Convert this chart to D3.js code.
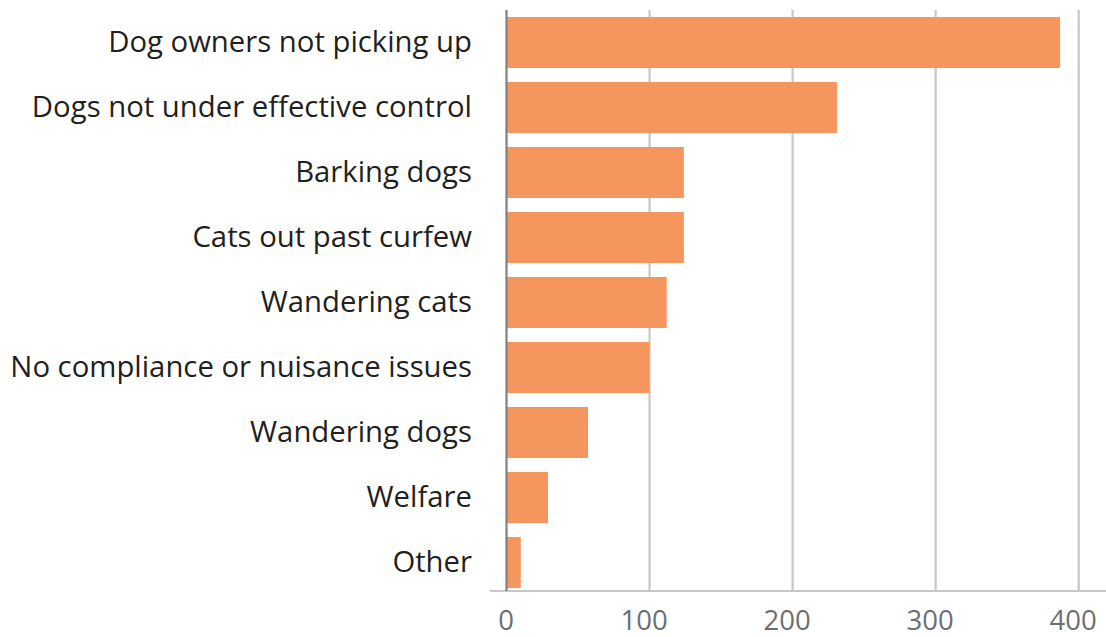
<!DOCTYPE html>
<html><head><meta charset="utf-8">
<script src="https://cdn.jsdelivr.net/npm/d3@7"></script>
<style>body{margin:0;background:#fff}svg{display:block}</style>
</head><body>
<script>
const categories = ["Dog owners not picking up","Dogs not under effective control","Barking dogs","Cats out past curfew","Wandering cats","No compliance or nuisance issues","Wandering dogs","Welfare","Other"];
const values = [387, 231, 124, 124, 112, 100, 57, 29, 10];
const tickValues = [0, 100, 200, 300, 400];

const W = 1106, H = 637;
const svg = d3.select("body").append("svg").attr("width", W).attr("height", H);
const x = d3.scaleLinear().domain([0, 400]).range([506.5, 1078.7]);
const y = d3.scaleBand().domain(categories).range([10, 595]).paddingInner(0.215).paddingOuter(0.1077);
const axisY = 591;
const font = "'Open Sans', 'Noto Sans', sans-serif";

// gridlines
svg.append("g").selectAll("line").data(tickValues.slice(1)).join("line")
  .attr("x1", d => x(d)).attr("x2", d => x(d)).attr("y1", 10).attr("y2", axisY)
  .attr("stroke", "#c6c7c8").attr("stroke-width", 2.2);

// bottom axis line
svg.append("line").attr("x1", 490).attr("x2", W).attr("y1", axisY).attr("y2", axisY)
  .attr("stroke", "#c6c7c8").attr("stroke-width", 2.2);

// bars
svg.append("g").selectAll("rect").data(values).join("rect")
  .attr("x", x(0)).attr("y", (d, i) => y(categories[i]))
  .attr("width", d => x(d) - x(0)).attr("height", y.bandwidth())
  .attr("fill", "#f6965f");

// vertical axis line
svg.append("line").attr("x1", x(0)).attr("x2", x(0)).attr("y1", 10).attr("y2", axisY)
  .attr("stroke", "#808080").attr("stroke-width", 2.2);

// category labels
svg.append("g").selectAll("text").data(categories).join("text")
  .attr("x", 472).attr("y", d => y(d) + y.bandwidth() / 2)
  .attr("dy", "0.31em").attr("text-anchor", "end")
  .attr("font-family", font).attr("font-size", 29.3).attr("fill", "#231f20")
  .text(d => d);

// tick labels
const xAxis = d3.axisBottom(x).tickValues(tickValues).tickSize(0).tickPadding(0).tickFormat(d3.format("d"));
const gx = svg.append("g").attr("transform", `translate(0,${axisY})`).call(xAxis);
gx.select(".domain").remove();
gx.selectAll("text").attr("y", 38.5).attr("dy", 0).attr("dx", d => d === 0 ? -1 : -6)
  .attr("font-family", font).attr("font-size", 27.5).attr("fill", "#6d6e71");
</script>
</body></html>
